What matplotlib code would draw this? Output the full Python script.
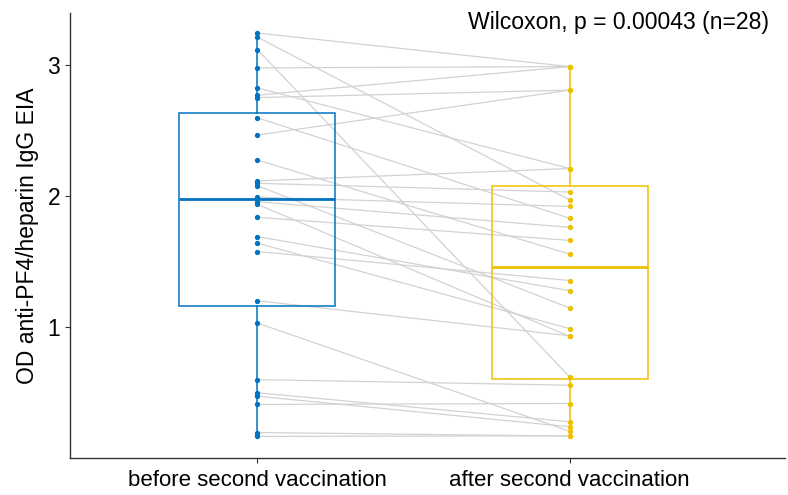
import matplotlib.pyplot as plt

plt.rcParams['font.family'] = ['Liberation Sans', 'DejaVu Sans']

# ---- datos ----
grupos = ["before second vaccination", "after second vaccination"]
colores = ["#0073C2", "#EFC000"]

antes = [3.247, 3.216, 3.12, 2.98, 2.827, 2.771, 2.753, 2.598, 2.466, 2.275,
         2.115, 2.097, 2.079, 1.99, 1.956, 1.936, 1.837, 1.689, 1.639, 1.575,
         1.198, 1.028, 0.595, 0.494, 0.468, 0.405, 0.19, 0.16]
despues = [2.99, 1.97, 0.616, 2.99, 2.21, 2.99, 2.81, 1.83, 2.81, 1.555,
           2.21, 2.03, 1.143, 1.92, 1.76, 0.926, 1.66, 1.275, 0.985, 1.353,
           0.93, 0.2, 0.552, 0.273, 0.234, 0.412, 0.163, 0.165]

texto_test = "Wilcoxon, p = 0.00043 (n=28)"

fig = plt.figure(figsize=(7.88, 4.95), dpi=100)
ax = fig.add_axes([70 / 788, 1 - 458 / 495, (785 - 70) / 788, (458 - 13) / 495])

# lineas que unen cada par
for a, d in zip(antes, despues):
    ax.plot([1, 2], [a, d], color="#d2d2d2", linewidth=0.9, zorder=1)

# cajas
for i, (vals, col) in enumerate(zip([antes, despues], colores), start=1):
    ax.boxplot(vals, positions=[i], widths=0.5, whis=(0, 100), showcaps=False,
               showfliers=False, patch_artist=True, zorder=2,
               boxprops=dict(facecolor="none", edgecolor=col, linewidth=1.1),
               whiskerprops=dict(color=col, linewidth=1.1),
               medianprops=dict(color=col, linewidth=2))
    ax.plot([i] * len(vals), vals, "o", color=col, markersize=2.8, zorder=3)

ax.set_xlim(0.4, 2.69)
ax.set_ylim(-0.005, 3.40)
ax.set_yticks([1, 2, 3])
ax.set_xticks([1, 2])
ax.set_xticklabels(grupos, fontsize=16)
ax.tick_params(axis="y", labelsize=16.5, length=3.5, color="#333333")
ax.tick_params(axis="x", length=3.5, color="#333333", pad=5)
ax.set_ylabel("OD anti-PF4/heparin IgG EIA", fontsize=16.5, labelpad=6)

for s in ["top", "right"]:
    ax.spines[s].set_visible(False)
for s in ["left", "bottom"]:
    ax.spines[s].set_color("#333333")
    ax.spines[s].set_linewidth(1)

ax.text(2.64, 3.33, texto_test, ha="right", va="center", fontsize=16.6)

fig.savefig("out.png", dpi=100)
